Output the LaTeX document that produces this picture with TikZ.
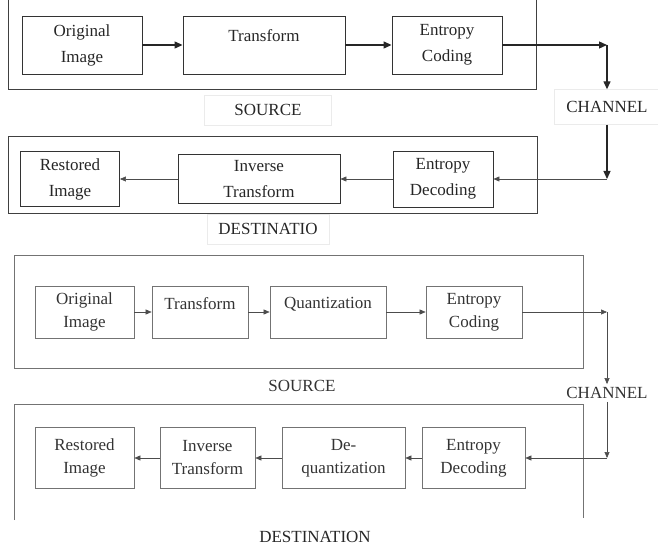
\documentclass[tikz,border=0pt]{standalone}
\usepackage{fontspec}
\setmainfont{Liberation Serif}
\usetikzlibrary{arrows.meta}

\begin{document}
\begin{tikzpicture}[x=1pt,y=-1pt,
  sz/.style 2 args={minimum width=#1pt,minimum height=#2pt},
  blk1/.style={draw=black!80,line width=0.9pt,align=center,inner sep=1pt,text=black!85},
  blk2/.style={draw=black!55,line width=0.7pt,align=center,inner sep=1pt,text=black!80,font=\fontsize{17}{23}\selectfont},
  lbl/.style={draw=black!8,inner sep=2pt,text=black!85},
  frm1/.style={draw=black!75,line width=1pt},
  frm2/.style={draw=black!55,line width=0.8pt},
  arr1/.style={-{Triangle[length=8pt,width=7pt]},line width=1.3pt,draw=black!85},
  arr2/.style={-{Triangle[length=6pt,width=5pt]},line width=0.6pt,draw=black!70},
  font=\fontsize{17}{26}\selectfont]
  \useasboundingbox (0,0) rectangle (658,548);

  % first scheme: source
  \draw[frm1] (8,0) -- (8,90) -- (536,90) -- (536,0);
  \node[blk1,sz={120}{58}] (orig1) at (82,45) {Original\\Image};
  \node[blk1,sz={162}{58}] (tr1) at (264,45) {Transform\\[-14pt]\strut};
  \node[blk1,sz={110}{58}] (ec1) at (447,45) {Entropy\\Coding};
  \node[lbl,sz={127}{30}] (src1) at (268,110) {SOURCE};
  \node[lbl,sz={106}{35}] (ch1) at (607,107) {CHANNEL};
  \coordinate (c1) at (607,45);
  \coordinate (c2) at (607,179);
  \foreach \a/\b in {orig1/tr1,tr1/ec1}
    \draw[arr1] (\a) -- (\b);
  \draw[arr1] (ec1.east) -- (c1);
  \draw[arr1] (c1) -- (ch1.north);

  % first scheme: destination
  \draw[frm1] (8,137) rectangle (537,213);
  \node[blk1,sz={100}{56}] (ed1) at (443,179) {Entropy\\Decoding};
  \node[blk1,sz={162}{49}] (it1) at (259,179) {Inverse\\Transform};
  \node[blk1,sz={99}{55}] (ri1) at (70,179) {Restored\\Image};
  \node[lbl,sz={122}{30}] (dst1) at (268,229) {DESTINATIO};
  \draw[arr1] (ch1.south) -- (c2);
  \draw[arr2] (c2) -- (ed1.east);
  \foreach \a/\b in {ed1/it1,it1/ri1}
    \draw[arr2] (\a) -- (\b);

  % second scheme: source
  \draw[frm2] (14,255) rectangle (583,368);
  \node[blk2,sz={99}{52}] (orig2) at (84.5,312) {Original\\Image};
  \node[blk2,sz={96}{52}] (tr2) at (200,312) {Transform\\[-12pt]\strut};
  \node[blk2,sz={116}{52}] (qu2) at (328,312) {Quantization\\[-12pt]\strut};
  \node[blk2,sz={96}{52}] (ec2) at (474,312) {Entropy\\Coding};
  \node[text=black!80] (src2) at (302,386) {SOURCE};
  \node[text=black!80,inner sep=3pt] (ch2) at (607,393) {CHANNEL};
  \coordinate (c3) at (607,312);
  \coordinate (c4) at (607,458);
  \foreach \a/\b in {orig2/tr2,tr2/qu2,qu2/ec2}
    \draw[arr2] (\a) -- (\b);
  \draw[arr2] (ec2.east) -- (c3);
  \draw[arr2] (c3) -- (ch2.north);

  % second scheme: destination
  \draw[frm2] (14,520) -- (14,404) -- (583,404) -- (583,518);
  \node[blk2,sz={103}{61}] (ed2) at (473.5,458) {Entropy\\Decoding};
  \node[blk2,sz={123}{61}] (dq2) at (343.5,458) {De-\\quantization};
  \node[blk2,sz={95}{61}] (it2) at (207.5,458) {Inverse\\Transform};
  \node[blk2,sz={99}{61}] (ri2) at (84.5,458) {Restored\\Image};
  \node[text=black!85] (dst2) at (315,537) {DESTINATION};
  \draw[arr2] (ch2.south) -- (c4);
  \draw[arr2] (c4) -- (ed2.east);
  \foreach \a/\b in {ed2/dq2,dq2/it2,it2/ri2}
    \draw[arr2] (\a) -- (\b);
\end{tikzpicture}
\end{document}
